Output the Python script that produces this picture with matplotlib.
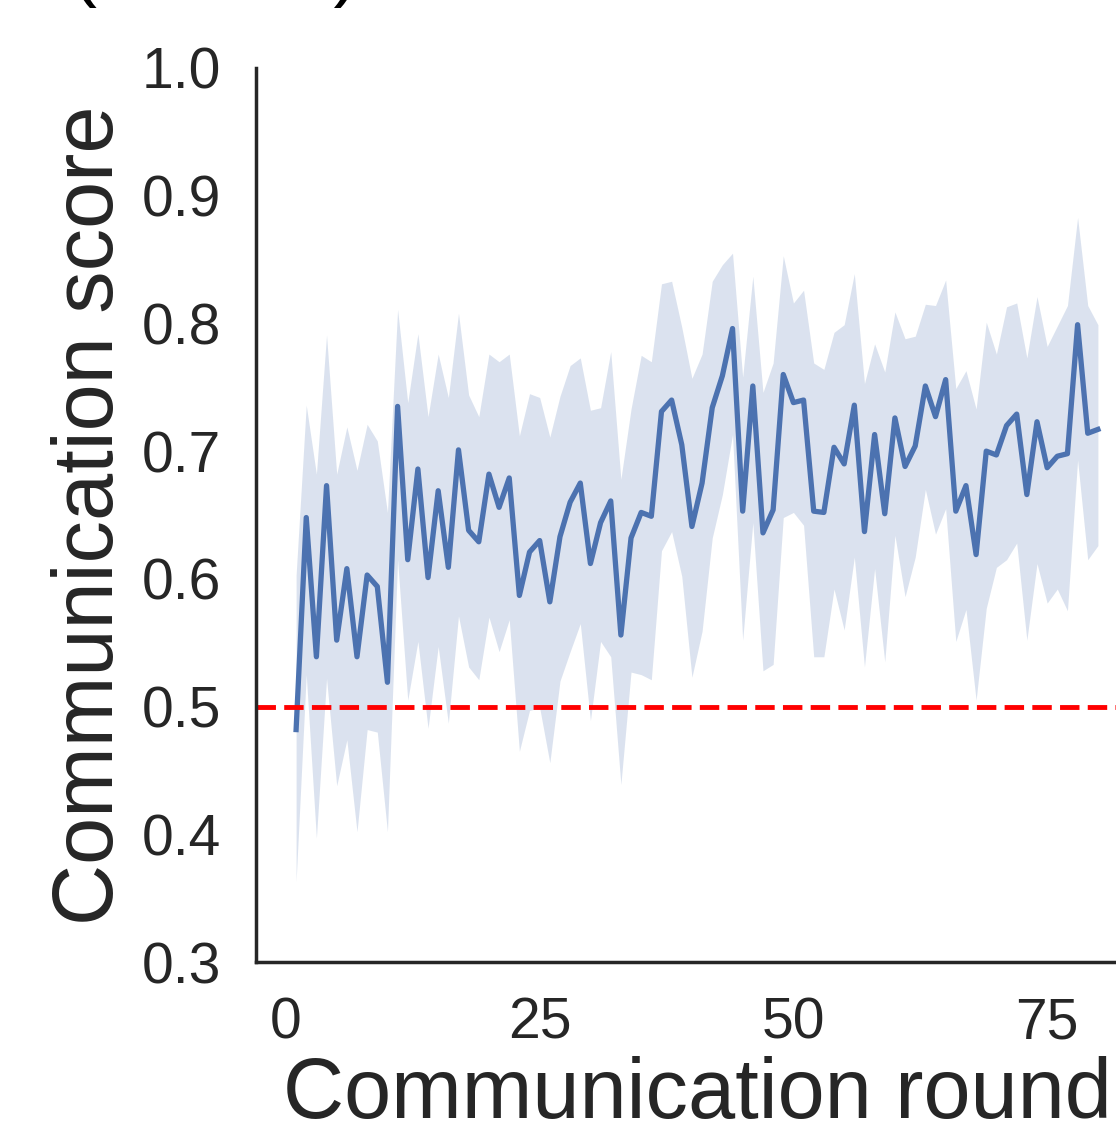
import matplotlib
matplotlib.use("Agg")
import matplotlib.pyplot as plt
import numpy as np

plt.rcParams['font.family'] = ['Liberation Sans', 'DejaVu Sans']

# communication rounds 1..80
rounds = list(range(1, 81))

score_mean = [
    0.482, 0.648, 0.539, 0.673, 0.552, 0.608, 0.539, 0.603, 0.594, 0.519,
    0.735, 0.615, 0.686, 0.601, 0.669, 0.609, 0.701, 0.638, 0.629, 0.682,
    0.656, 0.679, 0.587, 0.621, 0.630, 0.582, 0.633, 0.660, 0.675, 0.612,
    0.644, 0.661, 0.556, 0.632, 0.652, 0.649, 0.731, 0.740, 0.705, 0.641,
    0.675, 0.734, 0.759, 0.796, 0.653, 0.751, 0.636, 0.654, 0.760, 0.738,
    0.740, 0.653, 0.652, 0.703, 0.690, 0.736, 0.637, 0.713, 0.651, 0.726,
    0.688, 0.704, 0.751, 0.727, 0.756, 0.653, 0.673, 0.619, 0.700, 0.697,
    0.720, 0.729, 0.666, 0.723, 0.687, 0.696, 0.698, 0.799, 0.714, 0.717,
]

score_upper = [
    0.603, 0.736, 0.682, 0.791, 0.682, 0.719, 0.685, 0.721, 0.708, 0.652,
    0.811, 0.738, 0.792, 0.727, 0.776, 0.742, 0.808, 0.744, 0.727, 0.776,
    0.770, 0.776, 0.712, 0.745, 0.742, 0.711, 0.743, 0.767, 0.773, 0.732,
    0.734, 0.778, 0.678, 0.733, 0.775, 0.770, 0.831, 0.833, 0.797, 0.757,
    0.776, 0.833, 0.846, 0.855, 0.758, 0.837, 0.746, 0.769, 0.853, 0.816,
    0.826, 0.769, 0.764, 0.793, 0.799, 0.839, 0.753, 0.784, 0.762, 0.809,
    0.788, 0.790, 0.815, 0.814, 0.834, 0.749, 0.763, 0.733, 0.801, 0.776,
    0.813, 0.816, 0.773, 0.821, 0.782, 0.798, 0.814, 0.883, 0.814, 0.799,
]

score_lower = [
    0.363, 0.525, 0.397, 0.522, 0.438, 0.474, 0.402, 0.482, 0.480, 0.402,
    0.615, 0.505, 0.551, 0.483, 0.547, 0.487, 0.571, 0.531, 0.521, 0.570,
    0.543, 0.568, 0.465, 0.497, 0.499, 0.456, 0.520, 0.543, 0.565, 0.489,
    0.551, 0.539, 0.439, 0.527, 0.525, 0.521, 0.622, 0.637, 0.602, 0.523,
    0.559, 0.632, 0.666, 0.713, 0.552, 0.644, 0.528, 0.533, 0.648, 0.652,
    0.642, 0.539, 0.539, 0.592, 0.560, 0.617, 0.531, 0.608, 0.535, 0.634,
    0.586, 0.617, 0.670, 0.635, 0.655, 0.551, 0.576, 0.505, 0.577, 0.609,
    0.615, 0.628, 0.552, 0.612, 0.581, 0.592, 0.575, 0.693, 0.615, 0.626,
]

chance_level = 0.5
y_ticks = [0.3, 0.4, 0.5, 0.6, 0.7, 0.8, 0.9, 1.0]
x_ticks = [0, 25, 50, 75]

fig = plt.figure(figsize=(11.16, 11.29), dpi=100)
# axes runs past the right edge like the cropped original
ax = fig.add_axes([0.2294, 0.1479, 0.7903, 0.7919])

blue = '#4C72B0'
ax.fill_between(rounds, score_lower, score_upper, color=blue, alpha=0.2, linewidth=0)
ax.plot(rounds, score_mean, color=blue, linewidth=3.8)
ax.axhline(chance_level, color='red', linestyle='--', linewidth=3.5, dashes=(4, 1.7))

ax.set_ylim(0.3, 1.0)
ax.set_yticks(y_ticks)
ax.set_yticklabels(['{:.1f}'.format(t) for t in y_ticks])
ax.set_xticks(x_ticks)

for side in ['top', 'right']:
    ax.spines[side].set_visible(False)
for side in ['left', 'bottom']:
    ax.spines[side].set_color('#262626')
    ax.spines[side].set_linewidth(2.5)

ax.tick_params(axis='both', length=0, pad=25, labelsize=41, labelcolor='#262626')
ax.set_xlabel('Communication round', fontsize=61, color='#262626', labelpad=4)
ax.set_ylabel('Communication score', fontsize=61, color='#262626', labelpad=8)

# title of the original figure, mostly cut off at the top
fig.text(0.063, 1.0075, '(human)', fontsize=56, color='black', va='baseline', ha='left')

fig.savefig('out.png', dpi=100)
